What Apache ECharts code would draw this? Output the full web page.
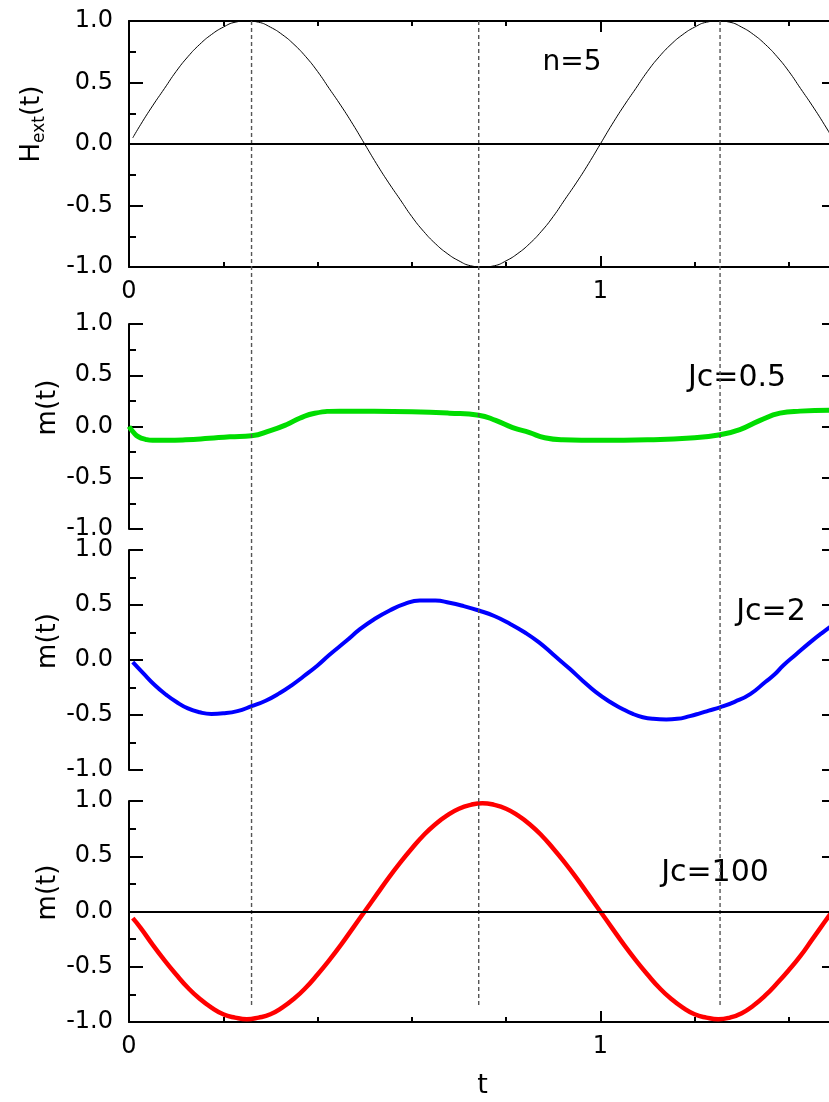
<!DOCTYPE html>
<html><head><meta charset="utf-8">
<script src="https://cdn.jsdelivr.net/npm/echarts@6/dist/echarts.min.js"></script>
<style>html,body{margin:0;padding:0;background:#fff}#c{width:829px;height:1102px}</style>
</head><body><div id="c"></div>
<script>
// ---- data ----
const tH   = [0.008,0.025,0.05,0.075,0.10,0.125,0.15,0.175,0.20,0.225,0.25,0.275,0.30,0.325,0.35,0.375,0.40,0.425,0.45,0.475,0.50,
              0.525,0.55,0.575,0.60,0.625,0.65,0.675,0.70,0.725,0.75,0.775,0.80,0.825,0.85,0.875,0.90,0.925,0.95,0.975,1.00,
              1.025,1.05,1.075,1.10,1.125,1.15,1.175,1.20,1.225,1.25,1.275,1.30,1.325,1.35,1.375,1.40,1.425,1.45,1.475,1.50];
const hExt = [0.05,0.16,0.31,0.45,0.59,0.71,0.81,0.89,0.95,0.99,1.0,0.99,0.95,0.89,0.81,0.71,0.59,0.45,0.31,0.16,0.0,
              -0.16,-0.31,-0.45,-0.59,-0.71,-0.81,-0.89,-0.95,-0.99,-1.0,-0.99,-0.95,-0.89,-0.81,-0.71,-0.59,-0.45,-0.31,-0.16,0.0,
              0.16,0.31,0.45,0.59,0.71,0.81,0.89,0.95,0.99,1.0,0.99,0.95,0.89,0.81,0.71,0.59,0.45,0.31,0.16,0.0];

const tGreen = [0,0.01,0.02,0.035,0.05,0.08,0.12,0.17,0.214,0.26,0.30,0.335,0.362,0.394,0.447,0.52,0.60,0.68,0.742,0.778,0.814,0.85,0.882,0.92,1.0,1.1,1.2,1.254,1.296,1.339,1.381,1.424,1.5];
const mJc05  = [0.0,-0.06,-0.10,-0.125,-0.135,-0.135,-0.13,-0.115,-0.10,-0.09,-0.04,0.02,0.08,0.13,0.15,0.15,0.145,0.13,0.11,0.06,-0.01,-0.06,-0.11,-0.13,-0.135,-0.13,-0.11,-0.08,-0.03,0.06,0.13,0.15,0.16];

const tBlue = [0.008,0.03,0.055,0.08,0.10,0.125,0.15,0.175,0.20,0.23,0.26,0.29,0.32,0.345,0.37,0.40,0.426,0.46,0.49,0.52,0.553,0.585,0.617,0.65,0.68,0.71,0.742,
               0.775,0.808,0.84,0.87,0.90,0.935,0.963,0.99,1.02,1.045,1.069,1.09,1.112,1.14,1.163,1.19,1.211,1.23,1.254,1.285,1.318,1.35,1.37,1.388,1.415,1.445,1.47,1.5];
const mJc2  = [-0.02,-0.12,-0.23,-0.32,-0.38,-0.44,-0.475,-0.49,-0.485,-0.465,-0.42,-0.37,-0.30,-0.23,-0.15,-0.05,0.05,0.17,0.28,0.37,0.45,0.51,0.54,0.54,0.52,0.49,0.45,
               0.40,0.33,0.25,0.16,0.05,-0.08,-0.19,-0.29,-0.38,-0.44,-0.49,-0.52,-0.535,-0.54,-0.535,-0.51,-0.485,-0.46,-0.43,-0.38,-0.31,-0.20,-0.13,-0.05,0.05,0.16,0.245,0.34];

const tRed   = [0.008,0.025,0.05,0.075,0.10,0.125,0.15,0.175,0.20,0.225,0.25,0.275,0.30,0.325,0.35,0.375,0.40,0.425,0.45,0.475,0.50,
                0.525,0.55,0.575,0.60,0.625,0.65,0.675,0.70,0.725,0.75,0.775,0.80,0.825,0.85,0.875,0.90,0.925,0.95,0.975,1.00,
                1.025,1.05,1.075,1.10,1.125,1.15,1.175,1.20,1.225,1.25,1.275,1.30,1.325,1.35,1.375,1.40,1.425,1.45,1.475,1.50];
const mJc100 = [-0.06,-0.15,-0.30,-0.44,-0.57,-0.69,-0.79,-0.87,-0.93,-0.96,-0.975,-0.96,-0.93,-0.87,-0.79,-0.69,-0.57,-0.44,-0.30,-0.15,0.0,
                0.15,0.30,0.44,0.57,0.69,0.79,0.87,0.93,0.965,0.98,0.965,0.93,0.87,0.79,0.69,0.57,0.44,0.30,0.15,0.0,
                -0.15,-0.30,-0.44,-0.57,-0.69,-0.79,-0.87,-0.93,-0.96,-0.975,-0.96,-0.92,-0.85,-0.76,-0.65,-0.53,-0.40,-0.25,-0.10,0.05];

const dashedT = [0.26, 0.742, 1.254];
const panelLabels = ['n=5', 'Jc=0.5', 'Jc=2', 'Jc=100'];
const yNames = ['{h|H}{s|ext}{h|(t)}', 'm(t)', 'm(t)', 'm(t)'];
const xTitle = 't';

// ---- layout / style ----
const FONT = 'DejaVu Sans';
const LEFT = 129, WIDTH = 707;
const grids = [
  {top: 21, height: 246},
  {top: 324, height: 205},
  {top: 550, height: 220},
  {top: 801, height: 221},
  {top: 21, height: 984}   // overlay for the dashed guide lines
].map(g => Object.assign({left: LEFT, width: WIDTH, containLabel: false, outerBoundsMode: 'none'}, g));

const zip = (a, b) => a.map((v, i) => [v, b[i]]);
const blk = '#000';
const TICKFONT = 24;

function xAxis(gridIndex, mode) {
  const base = {
    type: 'value', gridIndex, min: 0, max: 1.5, interval: 1,
    splitLine: {show: false}, minorSplitLine: {show: false}
  };
  if (mode === 'hidden') {
    return Object.assign(base, {show: false});
  }
  const withLabels = mode === 'bottomLabels';
  return Object.assign(base, {
    position: mode === 'top' ? 'top' : 'bottom',
    axisLine: {show: true, onZero: false, lineStyle: {color: blk, width: 2}},
    axisTick: {show: true, inside: true, length: 11, lineStyle: {color: blk, width: 2}},
    minorTick: {show: true, splitNumber: 5, length: 5, lineStyle: {color: blk, width: 2}},
    axisLabel: {show: withLabels, color: blk, fontSize: TICKFONT, fontFamily: FONT, margin: 13, showMaxLabel: false,
      formatter: v => String(v)},
  });
}

function yAxis(gridIndex, side, name) {
  const ax = {
    type: 'value', gridIndex, min: -1, max: 1, interval: 0.5, position: side,
    splitLine: {show: false}, minorSplitLine: {show: false},
    axisLine: {show: true, onZero: false, lineStyle: {color: blk, width: 2}},
    axisTick: {show: true, inside: true, length: 14, lineStyle: {color: blk, width: 2}},
    minorTick: {show: true, splitNumber: 2, length: 7, lineStyle: {color: blk, width: 2}},
    axisLabel: {show: side === 'left', color: blk, fontSize: TICKFONT, fontFamily: FONT, margin: 16,
      formatter: v => v.toFixed(1)}
  };
  if (name) {
    const isH = gridIndex === 0;
    Object.assign(ax, {
      name, nameLocation: 'middle', nameRotate: 90, nameGap: isH ? 84 : 68, nameMoveOverlap: false,
      nameTextStyle: isH ? {
        color: blk, padding: [0, 0, 0, 40],
        rich: {
          h: {fontSize: 26, fontFamily: FONT, color: blk},
          s: {fontSize: 17, fontFamily: FONT, color: blk, verticalAlign: 'bottom', padding: [0, 0, -3, 0]}
        }
      } : {color: blk, fontSize: 26, fontFamily: FONT, padding: [0, 0, 0, 38]}
    });
  }
  return ax;
}

const xAxes = [
  xAxis(0, 'bottomLabels'),
  xAxis(0, 'top'),
  xAxis(1, 'hidden'),
  xAxis(2, 'hidden'),
  Object.assign(xAxis(3, 'bottomLabels'), {
    name: xTitle, nameLocation: 'middle', nameGap: 50, nameMoveOverlap: false,
    nameTextStyle: {color: blk, fontSize: 27, fontFamily: FONT}
  }),
  xAxis(4, 'hidden')
];
const yAxes = [
  yAxis(0, 'left', yNames[0]), yAxis(0, 'right'),
  yAxis(1, 'left', yNames[1]), yAxis(1, 'right'),
  yAxis(2, 'left', yNames[2]), yAxis(2, 'right'),
  yAxis(3, 'left', yNames[3]), yAxis(3, 'right'),
  {type: 'value', gridIndex: 4, min: 0, max: 1, show: false, splitLine: {show: false}}
];

const zeroLine = {
  silent: true, symbol: 'none', label: {show: false},
  lineStyle: {color: blk, width: 2, type: 'solid'},
  data: [{yAxis: 0}]
};

const series = [
  {type: 'line', xAxisIndex: 0, yAxisIndex: 0, data: zip(tH, hExt), smooth: true, symbol: 'none',
   lineStyle: {color: blk, width: 1}, markLine: zeroLine},
  {type: 'line', xAxisIndex: 2, yAxisIndex: 2, data: zip(tGreen, mJc05), smooth: true, symbol: 'none',
   lineStyle: {color: '#00dd00', width: 5}},
  {type: 'line', xAxisIndex: 3, yAxisIndex: 4, data: zip(tBlue, mJc2), smooth: true, symbol: 'none',
   lineStyle: {color: '#0000ff', width: 4}},
  {type: 'line', xAxisIndex: 4, yAxisIndex: 6, data: zip(tRed, mJc100), smooth: true, symbol: 'none',
   lineStyle: {color: '#ff0000', width: 4.5}, markLine: Object.assign({}, zeroLine, {lineStyle: {color: blk, width: 1.8, type: 'solid'}})}
].concat(dashedT.map(t => ({
  type: 'line', xAxisIndex: 5, yAxisIndex: 8, data: [[t, 0], [t, 1]], symbol: 'none', silent: true,
  lineStyle: {color: '#555', width: 1.4, type: [4, 3]}
})));

const labelPos = [[572, 63], [737, 378], [771, 612], [715, 873]];
const graphic = panelLabels.map((txt, i) => ({
  type: 'text', x: labelPos[i][0], y: labelPos[i][1], silent: true,
  style: {text: txt, fill: blk, fontSize: i === 0 ? 28 : 30, fontFamily: FONT, align: 'center', verticalAlign: 'middle'}
}));

const chart = echarts.init(document.getElementById('c'), null, {renderer: 'canvas'});
chart.setOption({
  backgroundColor: '#fff',
  animation: false,
  grid: grids,
  xAxis: xAxes,
  yAxis: yAxes,
  series,
  graphic
});
</script></body></html>
